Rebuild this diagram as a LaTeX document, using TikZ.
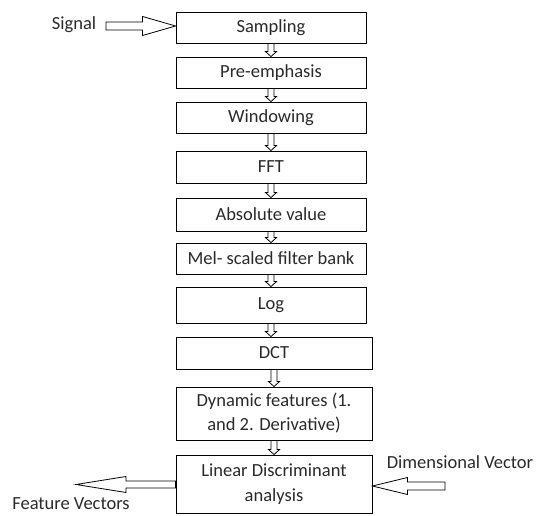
\documentclass[tikz,border=0pt]{standalone}
\usepackage{fontspec}
\setmainfont{Carlito}
\usetikzlibrary{calc}
\definecolor{txt}{HTML}{2A2A2A}
\tikzset{
  x=1pt, y=-1pt,
  stage/.style={draw=black, line width=0.9pt, fill=white, inner sep=0pt,
    minimum width=190pt, minimum height=31pt, align=center, text=txt,
    font=\fontsize{18.5}{24}\selectfont},
  label text/.style={text=txt, inner sep=0pt, font=\fontsize{18.5}{24}\selectfont},
  arrstem/.store in=\arrstem, arrhead/.store in=\arrhead, arrlen/.store in=\arrlen,
  arrstem=3pt, arrhead=5.5pt, arrlen=5pt,
  blockarrow/.style={draw=black, line width=0.8pt, fill=white, line join=miter,
    to path={
      ($(\tikztostart)!\arrstem!90:(\tikztotarget)$)
      -- ($(\tikztotarget)!\arrlen!(\tikztostart)!\arrstem!90:(\tikztotarget)$)
      -- ($(\tikztotarget)!\arrlen!(\tikztostart)!\arrhead!90:(\tikztotarget)$)
      -- (\tikztotarget)
      -- ($(\tikztotarget)!\arrlen!(\tikztostart)!\arrhead!-90:(\tikztotarget)$)
      -- ($(\tikztotarget)!\arrlen!(\tikztostart)!\arrstem!-90:(\tikztotarget)$)
      -- ($(\tikztostart)!\arrstem!-90:(\tikztotarget)$)
      -- cycle}},
  small/.style={blockarrow, arrstem=3pt, arrhead=5.5pt, arrlen=5pt},
  big/.style={blockarrow, arrstem=4pt, arrhead=9.5pt}
}
\begin{document}
\begin{tikzpicture}
\useasboundingbox (0,0) rectangle (536,516);

\node[stage] (s1) at (271,27.5) {Sampling};
\node[stage] (s2) at (271,72.5) {Pre-emphasis};
\node[stage] (s3) at (271,117.5) {Windowing};
\node[stage, minimum height=32pt] (s4) at (271,167) {FFT};
\node[stage, minimum height=33pt] (s5) at (271,214.5) {Absolute value};
\node[stage] (s6) at (271,258.5) {Mel- scaled filter bank};
\node[stage, minimum height=36pt] (s7) at (271,305) {Log};
\node[stage, minimum width=196pt, minimum height=32pt] (s8) at (274,353) {DCT};
\node[stage, minimum width=196pt, minimum height=53pt] (s9) at (274,413.5) {Dynamic features (1.\\and 2. Derivative)};
\node[stage, minimum width=196pt, minimum height=58pt, font=\fontsize{18.5}{25}\selectfont] (s10) at (274,484) {Linear Discriminant\\analysis};

\node[label text] (sig) at (74,25) {Signal};
\node[label text] (fv) at (71,504) {Feature Vectors};
\node[label text] (dv) at (460,462) {Dimensional Vector};

\coordinate (sigtail) at (106,26);
\coordinate (fvtip) at (76,484.5);
\coordinate (dvtail) at (445,486);

\draw[big, arrlen=33pt] (sigtail) to (sigtail -| s1.west);
\draw[small] (s1.south) to (s2.north);
\draw[small] (s2.south) to (s3.north);
\draw[small] (s3.south) to (s4.north);
\draw[small] (s4.south) to (s5.north);
\draw[small] (s5.south) to (s6.north);
\draw[small] (s6.south) to (s7.north);
\draw[small] (s7.south) to (s7.south |- s8.north);
\draw[small] (s8.south) to (s9.north);
\draw[small] (s9.south) to (s10.north);
\draw[big, arrstem=3.5pt, arrhead=8pt, arrlen=50pt] (fvtip -| s10.west) to (fvtip);
\draw[big, arrstem=4pt, arrhead=8.5pt, arrlen=35pt] (dvtail) to (dvtail -| s10.east);
\end{tikzpicture}
\end{document}
